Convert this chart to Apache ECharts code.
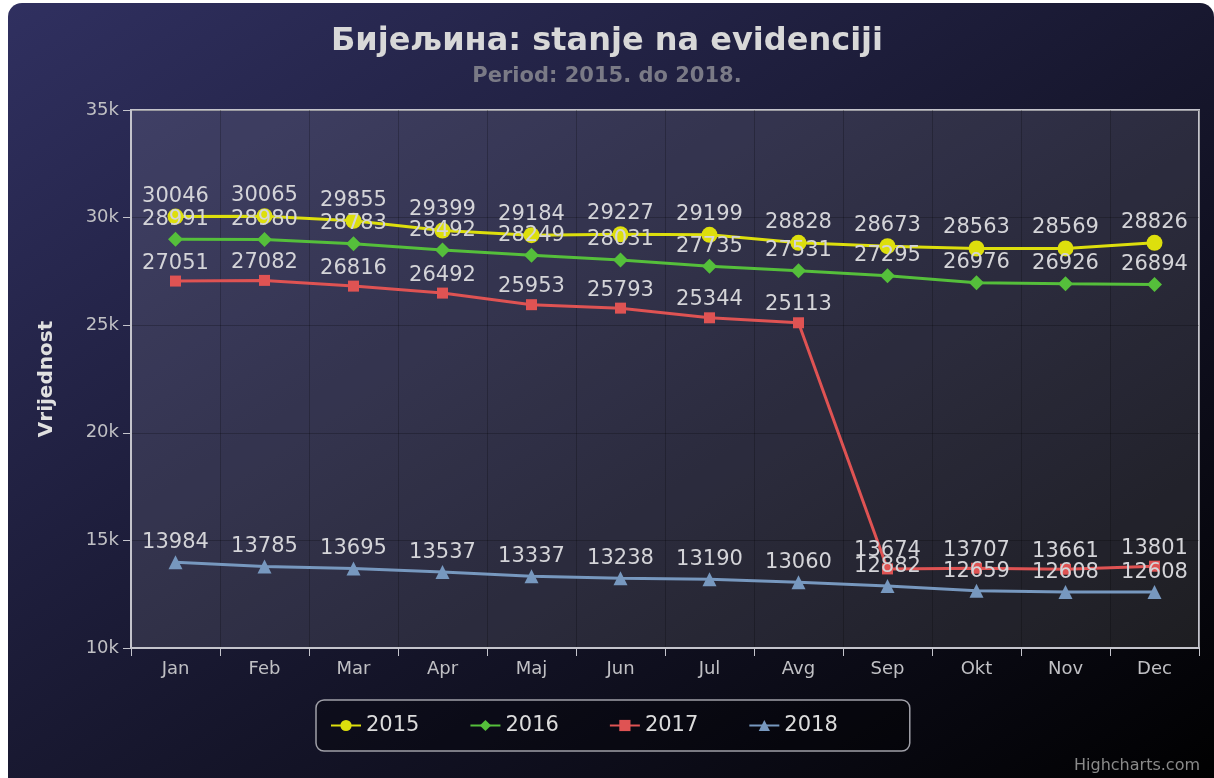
<!DOCTYPE html>
<html>
<head>
<meta charset="utf-8">
<script src="https://cdn.jsdelivr.net/npm/echarts@6/dist/echarts.min.js"></script>
<style>
  html, body { margin: 0; padding: 0; background: #fff; }
  .bg {
    position: absolute; left: 8px; top: 3px; width: 1206px; height: 790px;
    border-radius: 14px;
    background: linear-gradient(to bottom right, rgb(48,48,96), rgb(0,0,0));
  }
  #chart { position: absolute; left: 0; top: 0; width: 1214px; height: 778px; }
</style>
</head>
<body>
<div class="bg"></div>
<div id="chart"></div>
<script>
  var months = ['Jan', 'Feb', 'Mar', 'Apr', 'Maj', 'Jun', 'Jul', 'Avg', 'Sep', 'Okt', 'Nov', 'Dec']
  var y2015 = [30046, 30065, 29855, 29399, 29184, 29227, 29199, 28828, 28673, 28563, 28569, 28826]
  var y2016 = [28991, 28980, 28783, 28492, 28249, 28031, 27735, 27531, 27295, 26976, 26926, 26894]
  var y2017 = [27051, 27082, 26816, 26492, 25953, 25793, 25344, 25113, 13674, 13707, 13661, 13801]
  var y2018 = [13984, 13785, 13695, 13537, 13337, 13238, 13190, 13060, 12882, 12659, 12608, 12608]

  var font = 'DejaVu Sans'

  function makeSeries(name, data, color, symbol, size) {
    return {
      name: name,
      type: 'line',
      data: data,
      symbol: symbol,
      symbolSize: size,
      lineStyle: { color: color, width: 3 },
      itemStyle: { color: color },
      label: {
        show: true,
        position: 'top',
        distance: 2,
        color: '#d4d4d8',
        fontFamily: font,
        fontSize: 21
      }
    }
  }

  var chart = echarts.init(document.getElementById('chart'))
  chart.setOption({
    animation: false,
    textStyle: { fontFamily: font },
    title: {
      text: 'Бијељина: stanje na evidenciji',
      subtext: 'Period: 2015. do 2018.',
      left: 'center',
      top: 21,
      itemGap: 8,
      textStyle: { color: '#d8d8d8', fontSize: 32, fontWeight: 'bold', fontFamily: font },
      subtextStyle: { color: '#7a7a86', fontSize: 21, fontWeight: 'bold', fontFamily: font }
    },
    legend: {
      left: 316,
      top: 700,
      width: 596,
      padding: [15, 72, 15, 14],
      itemGap: 50,
      itemWidth: 30,
      itemHeight: 14,
      borderColor: '#a0a0a8',
      borderWidth: 1.5,
      borderRadius: 8,
      backgroundColor: 'rgba(0,0,0,0.3)',
      textStyle: { color: '#dcdcdc', fontSize: 21, fontFamily: font },
      data: ['2015', '2016', '2017', '2018']
    },
    graphic: [{
      type: 'text',
      right: 14,
      bottom: 4,
      style: { text: 'Highcharts.com', fill: '#8a8a8a', fontSize: 16, fontFamily: font }
    }],
    grid: {
      left: 131,
      right: 15,
      top: 110,
      bottom: 130,
      show: true,
      backgroundColor: 'rgba(255,255,255,0.1)',
      borderColor: '#c4c4cc',
      borderWidth: 2
    },
    xAxis: {
      type: 'category',
      data: months,
      boundaryGap: true,
      axisLine: { lineStyle: { color: '#c4c4cc', width: 2 } },
      axisTick: { show: true, length: 8, lineStyle: { color: '#c4c4cc', width: 1 } },
      axisLabel: { color: '#c0c0c4', fontSize: 18, margin: 12, fontFamily: font },
      splitLine: { show: true, lineStyle: { color: 'rgba(0,0,0,0.22)', width: 1 } }
    },
    yAxis: {
      type: 'value',
      min: 10000,
      max: 35000,
      interval: 5000,
      name: 'Vrijednost',
      nameLocation: 'middle',
      nameRotate: 90,
      nameGap: 74,
      nameTextStyle: { color: '#e0e0e0', fontSize: 20, fontWeight: 'bold', fontFamily: font },
      axisLine: { show: true, lineStyle: { color: '#c4c4cc', width: 2 } },
      axisTick: { show: true, length: 8, lineStyle: { color: '#c4c4cc', width: 1 } },
      axisLabel: {
        color: '#c0c0c4',
        fontSize: 18,
        margin: 12,
        fontFamily: font,
        formatter: function (v) { return (v / 1000) + 'k' }
      },
      splitLine: { show: true, lineStyle: { color: 'rgba(0,0,0,0.22)', width: 1 } }
    },
    series: [
      makeSeries('2015', y2015, '#DDDF0D', 'circle', 16),
      makeSeries('2016', y2016, '#55BF3B', 'diamond', 15),
      makeSeries('2017', y2017, '#DF5353', 'rect', 11),
      makeSeries('2018', y2018, '#7798BF', 'triangle', 14)
    ]
  })
</script>
</body>
</html>
